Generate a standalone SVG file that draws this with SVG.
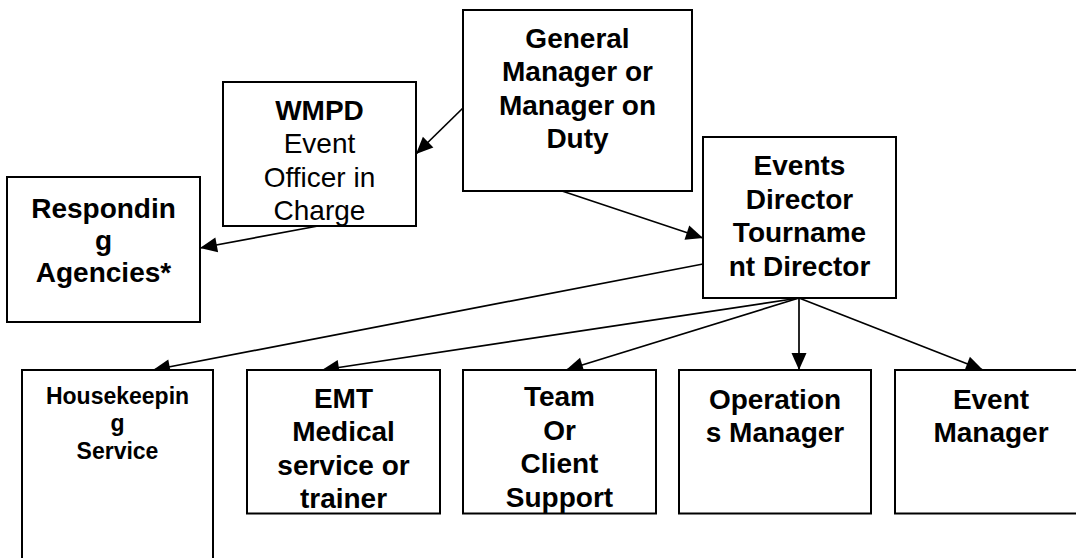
<svg xmlns="http://www.w3.org/2000/svg" width="1076" height="558" viewBox="0 0 1076 558">
<style>
.box{fill:#fff;stroke:#000;stroke-width:2}
.t{font-family:"Liberation Sans",Arial,sans-serif;font-size:28px;text-anchor:middle;fill:#000}
.b{font-weight:bold}
.s{font-size:23px}
.c{fill:none;stroke:#000;stroke-width:1.7}
</style>
<defs>
<marker id="ah" markerUnits="userSpaceOnUse" markerWidth="19" markerHeight="16" refX="17" refY="7.5" orient="auto" overflow="visible">
<path d="M0,0 L17,7.5 L0,15 z" fill="#000"/>
</marker>
</defs>
<rect width="1076" height="558" fill="#fff"/>
<g id="connectors">
<line class="c" x1="464" y1="107" x2="416" y2="154" marker-end="url(#ah)"/>
<line class="c" x1="318" y1="226" x2="200" y2="248" marker-end="url(#ah)"/>
<line class="c" x1="562" y1="191" x2="703" y2="238" marker-end="url(#ah)"/>
<line class="c" x1="703" y1="264" x2="153" y2="370" marker-end="url(#ah)"/>
<line class="c" x1="799" y1="298" x2="322" y2="370" marker-end="url(#ah)"/>
<line class="c" x1="799" y1="298" x2="566" y2="370" marker-end="url(#ah)"/>
<line class="c" x1="799" y1="298" x2="799" y2="370" marker-end="url(#ah)"/>
<line class="c" x1="799" y1="298" x2="983" y2="370" marker-end="url(#ah)"/>
</g>
<g id="gm">
<rect class="box" x="463" y="10" width="229" height="181"/>
<text class="t b" x="577.5" y="47.5">General</text>
<text class="t b" x="577.5" y="81">Manager or</text>
<text class="t b" x="577.5" y="114.5">Manager on</text>
<text class="t b" x="577.5" y="148">Duty</text>
</g>
<g id="wmpd">
<rect class="box" x="223" y="82" width="193" height="144"/>
<text class="t b" x="319.5" y="119.5">WMPD</text>
<text class="t" x="319.5" y="153">Event</text>
<text class="t" x="319.5" y="186.5">Officer in</text>
<text class="t" x="319.5" y="220">Charge</text>
</g>
<g id="responding">
<rect class="box" x="7" y="177" width="193" height="145"/>
<text class="t b" x="103.5" y="218">Respondin</text>
<text class="t b" x="103.5" y="250">g</text>
<text class="t b" x="103.5" y="282">Agencies*</text>
</g>
<g id="events-director">
<rect class="box" x="703" y="137" width="193" height="161"/>
<text class="t b" x="799.5" y="175">Events</text>
<text class="t b" x="799.5" y="208.5">Director</text>
<text class="t b" x="799.5" y="242">Tourname</text>
<text class="t b" x="799.5" y="275.5">nt Director</text>
</g>
<g id="housekeeping">
<rect class="box" x="22" y="370" width="191" height="200"/>
<text class="t b s" x="117.5" y="403.5">Housekeepin</text>
<text class="t b s" x="117.5" y="431">g</text>
<text class="t b s" x="117.5" y="458.5">Service</text>
</g>
<g id="emt">
<rect class="box" x="247" y="370" width="193" height="143.5"/>
<text class="t b" x="343.5" y="407.5">EMT</text>
<text class="t b" x="343.5" y="441">Medical</text>
<text class="t b" x="343.5" y="474.5">service or</text>
<text class="t b" x="343.5" y="508">trainer</text>
</g>
<g id="team">
<rect class="box" x="463" y="370" width="193" height="143.5"/>
<text class="t b" x="559.5" y="406">Team</text>
<text class="t b" x="559.5" y="439.5">Or</text>
<text class="t b" x="559.5" y="473">Client</text>
<text class="t b" x="559.5" y="506.5">Support</text>
</g>
<g id="operations">
<rect class="box" x="679" y="370" width="192" height="143.5"/>
<text class="t b" x="775" y="408.5">Operation</text>
<text class="t b" x="775" y="442">s Manager</text>
</g>
<g id="event-manager">
<rect class="box" x="895" y="370" width="192" height="143.5"/>
<text class="t b" x="991" y="408.5">Event</text>
<text class="t b" x="991" y="442">Manager</text>
</g>
</svg>
